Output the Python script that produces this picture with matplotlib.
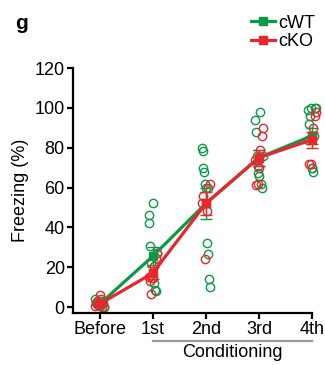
import matplotlib.pyplot as plt
from matplotlib.lines import Line2D
import numpy as np

plt.rcParams['font.family'] = ['Liberation Sans', 'DejaVu Sans']

sessions = ["Before", "1st", "2nd", "3rd", "4th"]

# individual animals, freezing (%)
wt_points = [
    [0, 1, 2, 3, 0.5, 1.5, 2, 0, 1, 4],
    [52, 46, 42, 30.5, 22, 14.5, 12, 8.5, 8, 27],
    [80, 78.5, 70, 68, 62, 60, 32, 26.5, 14, 10],
    [98, 94, 88, 76, 71, 67.5, 66, 62, 60, 76],
    [100, 100, 99, 96, 92, 70, 70, 68, 100, 86],
]
ko_points = [
    [0, 2, 4, 6, 1, 3, 0.5],
    [27, 24.5, 20.5, 14.5, 6.5, 13, 15],
    [62, 60, 48, 24, 56, 52],
    [90, 86, 79, 70, 62, 61.5, 74],
    [98, 96, 90, 72, 72, 84],
]
wt_mean = [1.5, 25.5, 52, 75, 86]
wt_sem = [0.8, 4.5, 8, 4, 4]
ko_mean = [1.5, 17, 52, 75, 84]
ko_sem = [0.8, 3, 6, 4, 4]

green = "#0a9a46"
red = "#e8262d"

fig = plt.figure(figsize=(3.25, 3.65), dpi=100)
ax = fig.add_axes([0.225, 0.1425, 0.735, 0.671])

x = np.arange(len(sessions))
for i in range(len(sessions)):
    n = len(wt_points[i])
    jit = np.linspace(-0.08, 0.08, n)[np.argsort(np.argsort(wt_points[i]))[::-1] % n]
    ax.plot(x[i] + jit, wt_points[i], 'o', mfc='none', mec=green, ms=6, mew=1, clip_on=False, zorder=2)
    n = len(ko_points[i])
    jit = np.linspace(-0.08, 0.08, n)[::-1]
    ax.plot(x[i] + jit, ko_points[i], 'o', mfc='none', mec=red, ms=6, mew=1, clip_on=False, zorder=2)

ax.errorbar(x, wt_mean, yerr=wt_sem, color=green, lw=2.3, marker='s', ms=6,
            capsize=4, elinewidth=1, capthick=1, clip_on=False, zorder=3)
ax.errorbar(x, ko_mean, yerr=ko_sem, color=red, lw=2.3, marker='s', ms=6,
            capsize=4, elinewidth=1, capthick=1, clip_on=False, zorder=4)

ax.set_xlim(-0.5, 4)
ax.set_ylim(-3, 120)
ax.set_yticks([0, 20, 40, 60, 80, 100, 120])
ax.set_xticks(x)
ax.set_xticklabels(sessions)
for s in ['top', 'right']:
    ax.spines[s].set_visible(False)
for s in ['left', 'bottom']:
    ax.spines[s].set_linewidth(1.6)
ax.tick_params(width=1.6, length=4, labelsize=13, pad=2)
ax.set_ylabel("Freezing (%)", fontsize=13, labelpad=4)

handles = [Line2D([], [], color=green, lw=2.3, marker='s', ms=6),
           Line2D([], [], color=red, lw=2.3, marker='s', ms=6)]
fig.legend(handles, ["cWT", "cKO"], loc='upper right', bbox_to_anchor=(0.97, 0.96),
           frameon=False, fontsize=13, handlelength=1.3, handletextpad=0.2,
           labelspacing=0.1, borderpad=0, borderaxespad=0)

# conditioning bracket
ax.plot([1, 4], [-0.115, -0.115], transform=ax.get_xaxis_transform(), color="#999999",
        lw=1.6, clip_on=False)
ax.text(2.5, -0.125, "Conditioning", transform=ax.get_xaxis_transform(), ha='center',
        va='top', fontsize=13)

fig.text(0.045, 0.962, "g", fontsize=15, fontweight='bold', va='top')

fig.savefig("out.png", dpi=100)
